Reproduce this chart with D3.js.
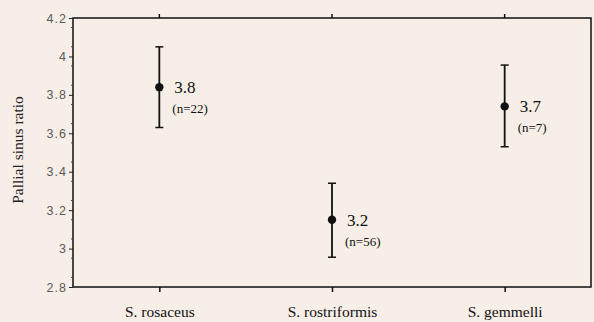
<!DOCTYPE html>
<html>
<head>
<meta charset="utf-8">
<script src="https://cdn.jsdelivr.net/npm/d3@7"></script>
<style>
  body { margin: 0; background: #f6eee7; }
  svg { display: block; }
</style>
</head>
<body>
<div></div>
<script>
const species = ["S. rosaceus", "S. rostriformis", "S. gemmelli"];
const means = [3.84, 3.15, 3.74];
const upper = [4.05, 3.34, 3.955];
const lower = [3.63, 2.955, 3.53];
const meanLabels = ["3.8", "3.2", "3.7"];
const nLabels = ["(n=22)", "(n=56)", "(n=7)"];
const yTicks = [2.8, 3, 3.2, 3.4, 3.6, 3.8, 4, 4.2];

const width = 594, height = 322;
const plotLeft = 73, plotRight = 591, plotTop = 18, plotBottom = 287;
const serif = "'Liberation Serif', 'Times New Roman', serif";
const sans = "'Liberation Sans', Arial, sans-serif";

const svg = d3.select("div")
    .append("svg")
    .attr("width", width)
    .attr("height", height);

svg.append("rect")
    .attr("width", width)
    .attr("height", height)
    .attr("fill", "#f6eee7");

const x = d3.scalePoint().domain(species).range([plotLeft, plotRight]).padding(0.5);
const y = d3.scaleLinear().domain([2.8, 4.2]).range([plotBottom, plotTop]);

// frame
svg.append("rect")
    .attr("x", plotLeft)
    .attr("y", plotTop)
    .attr("width", plotRight - plotLeft)
    .attr("height", plotBottom - plotTop)
    .attr("fill", "none")
    .attr("stroke", "#111")
    .attr("stroke-width", 1.5);

// left axis
const yAxis = svg.append("g")
    .attr("transform", "translate(" + plotLeft + ",0)")
    .call(d3.axisLeft(y).tickValues(yTicks).tickSize(4).tickPadding(2)
        .tickFormat(d => String(+d.toFixed(1))));
yAxis.select(".domain").remove();
yAxis.selectAll("text")
    .attr("font-family", sans)
    .attr("font-size", 12.5)
    .attr("letter-spacing", 1)
    .attr("fill", "#5a5a5a");
yAxis.selectAll("line").attr("stroke", "#222");

// minor ticks
const minor = d3.range(2.85, 4.2, 0.1);
svg.append("g").selectAll("line")
    .data(minor)
    .join("line")
    .attr("x1", plotLeft - 2)
    .attr("x2", plotLeft)
    .attr("y1", d => y(d))
    .attr("y2", d => y(d))
    .attr("stroke", "#444");

// bottom axis
const xAxis = svg.append("g")
    .attr("transform", "translate(0," + plotBottom + ")")
    .call(d3.axisBottom(x).tickSize(5).tickPadding(14));
xAxis.select(".domain").remove();
xAxis.selectAll("text")
    .attr("font-family", serif)
    .attr("font-size", 15.5)
    .attr("fill", "#111");
xAxis.selectAll("line").attr("stroke", "#111").attr("stroke-width", 1.5);

// top ticks
svg.append("g").selectAll("line")
    .data(species)
    .join("line")
    .attr("x1", d => x(d))
    .attr("x2", d => x(d))
    .attr("y1", plotTop)
    .attr("y2", plotTop - 4)
    .attr("stroke", "#111")
    .attr("stroke-width", 1.5);

// y label
svg.append("text")
    .attr("transform", "translate(23,150) rotate(-90)")
    .attr("text-anchor", "middle")
    .attr("font-family", serif)
    .attr("font-size", 15.5)
    .attr("fill", "#222")
    .text("Pallial sinus ratio");

// error bars
const g = svg.append("g");
species.forEach((s, i) => {
    const cx = x(s);
    g.append("line")
        .attr("x1", cx).attr("x2", cx)
        .attr("y1", y(upper[i])).attr("y2", y(lower[i]))
        .attr("stroke", "#111").attr("stroke-width", 1.8);
    [upper[i], lower[i]].forEach(v => {
        g.append("line")
            .attr("x1", cx - 4).attr("x2", cx + 4)
            .attr("y1", y(v)).attr("y2", y(v))
            .attr("stroke", "#111").attr("stroke-width", 1.5);
    });
    g.append("circle")
        .attr("cx", cx)
        .attr("cy", y(means[i]))
        .attr("r", 4.2)
        .attr("fill", "#111");
    g.append("text")
        .attr("x", cx + 15)
        .attr("y", y(means[i]) + 6)
        .attr("font-family", serif)
        .attr("font-size", 17)
        .attr("fill", "#111")
        .text(meanLabels[i]);
    g.append("text")
        .attr("x", cx + 13)
        .attr("y", y(means[i]) + 26)
        .attr("font-family", serif)
        .attr("font-size", 13)
        .attr("fill", "#111")
        .text(nLabels[i]);
});
</script>
</body>
</html>
